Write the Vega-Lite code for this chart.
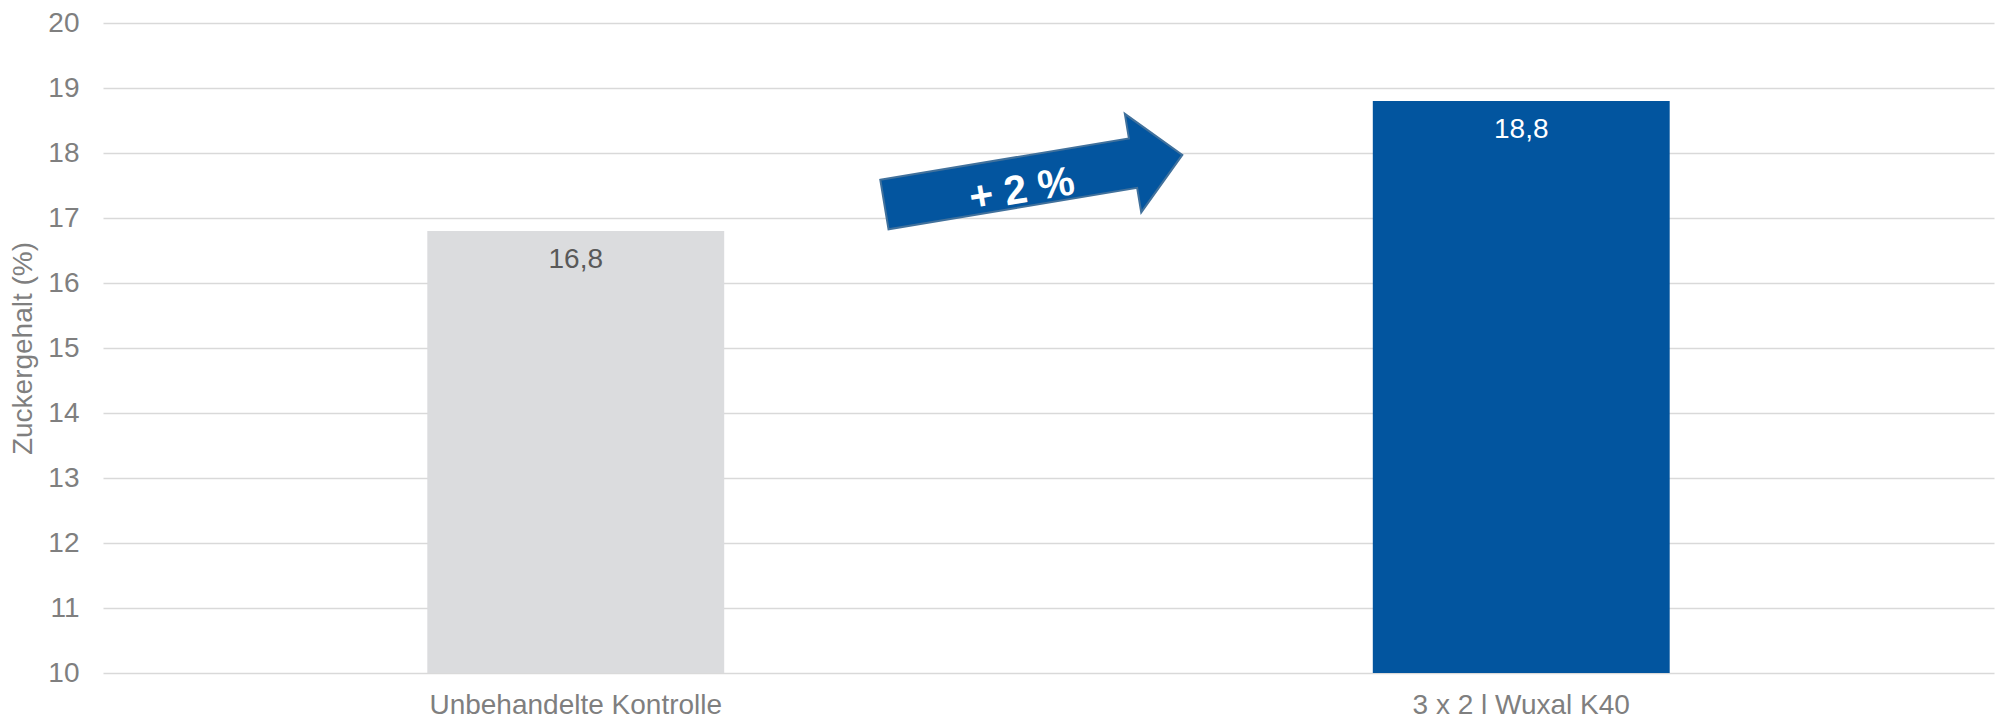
{
  "$schema": "https://vega.github.io/schema/vega-lite/v6.json",
  "width": 1891,
  "height": 650,
  "autosize": "none",
  "padding": {"left": 103, "top": 23, "right": 5, "bottom": 47},
  "background": "white",
  "config": {
    "font": "Liberation Sans",
    "view": {"stroke": null}
  },
  "datasets": {
    "bars": [
      {"group": "Unbehandelte Kontrolle", "value": 16.8, "label": "16,8"},
      {"group": "3 x 2 l Wuxal K40", "value": 18.8, "label": "18,8"}
    ],
    "arrow": [
      {"pos": 0.984, "level": 17.589, "text": "+ 2 %", "tx": 0.972, "ty": 17.42}
    ]
  },
  "layer": [
    {
      "data": {"name": "bars"},
      "layer": [
        {
          "mark": {"type": "bar"},
          "encoding": {
            "x": {
              "field": "group",
              "type": "nominal",
              "sort": null,
              "scale": {"paddingInner": 0.686, "paddingOuter": 0.343},
              "axis": {
                "title": null,
                "labelAngle": 0,
                "labelFontSize": 28,
                "labelColor": "#7f7f7f",
                "labelPadding": 18,
                "labelLimit": 0,
                "ticks": false,
                "domain": false
              }
            },
            "y": {
              "field": "value",
              "type": "quantitative",
              "scale": {"domain": [10, 20], "zero": false, "nice": false},
              "axis": {
                "title": "Zuckergehalt (%)",
                "titleFontSize": 28,
                "titleFontWeight": "normal",
                "titleColor": "#7f7f7f",
                "titleX": -80,
                "titleY": 325,
                "titleAngle": 270,
                "titleBaseline": "middle",
                "titleAlign": "center",
                "values": [10, 11, 12, 13, 14, 15, 16, 17, 18, 19, 20],
                "format": "d",
                "labelFontSize": 28,
                "labelColor": "#7f7f7f",
                "labelPadding": 24,
                "ticks": false,
                "domain": false,
                "grid": true,
                "gridColor": "#d9d9d9",
                "gridWidth": 1.5
              }
            },
            "y2": {"datum": 10},
            "color": {
              "field": "group",
              "type": "nominal",
              "scale": {
                "domain": ["Unbehandelte Kontrolle", "3 x 2 l Wuxal K40"],
                "range": ["#dbdcde", "#02559f"]
              },
              "legend": null
            }
          }
        },
        {
          "mark": {"type": "text", "fontSize": 28, "baseline": "alphabetic", "align": "center", "dy": 37},
          "encoding": {
            "x": {"field": "group", "type": "nominal", "sort": null},
            "y": {"field": "value", "type": "quantitative"},
            "text": {"field": "label"},
            "color": {
              "condition": {"test": "datum.group === '3 x 2 l Wuxal K40'", "value": "#ffffff"},
              "value": "#595959"
            }
          }
        }
      ]
    },
    {
      "data": {"name": "arrow"},
      "layer": [
        {
          "mark": {
            "type": "point",
            "shape": "M -1 -0.166 L 0.669 -0.166 L 0.669 -0.331 L 1 0 L 0.669 0.331 L 0.669 0.166 L -1 0.166 Z",
            "filled": true,
            "fill": "#03559f",
            "stroke": "#41719c",
            "strokeWidth": 2,
            "opacity": 1,
            "fillOpacity": 1,
            "size": 91204,
            "angle": 350.55
          },
          "encoding": {
            "x": {"field": "pos", "type": "quantitative", "scale": {"domain": [0, 2], "nice": false, "zero": false}, "axis": null},
            "y": {"field": "level", "type": "quantitative"}
          }
        },
        {
          "mark": {
            "type": "text",
            "fontSize": 41,
            "fontWeight": "bold",
            "color": "#ffffff",
            "align": "center",
            "baseline": "middle",
            "angle": 350.55
          },
          "encoding": {
            "x": {"field": "tx", "type": "quantitative", "scale": {"domain": [0, 2], "nice": false, "zero": false}, "axis": null},
            "y": {"field": "ty", "type": "quantitative"},
            "text": {"field": "text"}
          }
        }
      ]
    }
  ],
  "resolve": {"scale": {"x": "independent"}}
}
